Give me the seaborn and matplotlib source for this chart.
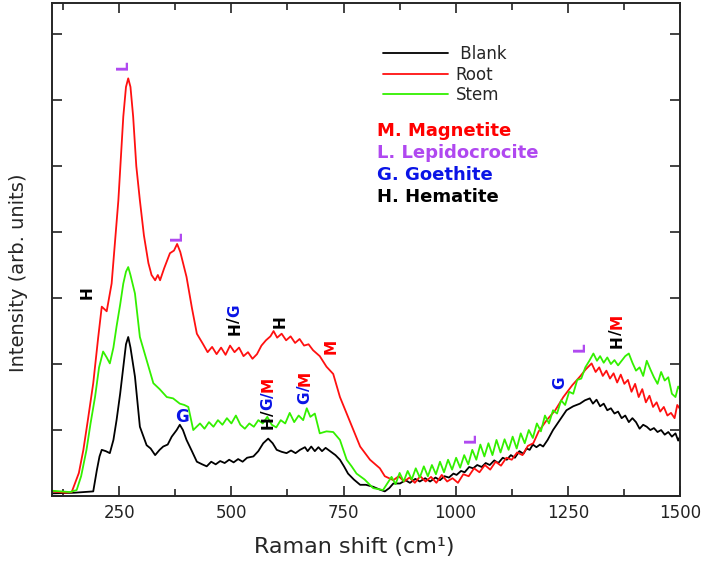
import numpy as np
import pandas as pd
import matplotlib
matplotlib.use("Agg")
import matplotlib.pyplot as plt
import seaborn as sns

# Raman spectra (x in cm^-1, intensity in arb. units)
root_x = [100, 130, 144, 160, 170, 180, 192, 203, 211, 222, 233, 241, 248, 259, 265, 270, 275, 281,
          288, 296, 305, 315, 322, 330, 336, 341, 350, 363, 372, 379, 386, 400, 412, 423,
          437, 447, 457, 467, 477, 487, 497, 507, 517, 527, 537, 547, 557, 567, 577, 587, 594, 602,
          612, 622, 632, 642, 652, 662, 672, 682, 697,
          712, 727, 742, 757, 772, 787, 809, 831, 842,
          861, 873, 885, 897, 909, 921, 933, 945, 957, 969, 981, 993, 1005, 1017, 1029, 1041, 1053,
          1065, 1077, 1089, 1101, 1113, 1125, 1137, 1149, 1161, 1173, 1185,
          1203, 1222, 1240, 1260, 1277, 1290,
          1303, 1312, 1320, 1328, 1336, 1344, 1352, 1360, 1368, 1376, 1384, 1392, 1400, 1408, 1416,
          1424, 1432, 1440, 1448, 1456, 1464, 1472, 1480, 1488, 1494, 1500]
root_y = [0.07, 0.05, 0.06, 0.35, 0.70, 1.15, 1.71, 2.40, 2.87, 2.80, 3.22, 3.90, 4.48, 5.75, 6.20,
          6.33, 6.20, 5.75, 5.00, 4.48, 3.95, 3.53, 3.35, 3.27, 3.35, 3.27, 3.45, 3.68, 3.72, 3.82,
          3.70, 3.32, 2.85, 2.46,
          2.30, 2.18, 2.26, 2.15, 2.25, 2.14, 2.28, 2.18, 2.25, 2.12, 2.18, 2.08, 2.15, 2.28, 2.36,
          2.42, 2.50, 2.40, 2.46, 2.36, 2.42, 2.32, 2.38, 2.28, 2.30, 2.21, 2.12,
          1.96, 1.85, 1.50, 1.25, 1.00, 0.75, 0.55, 0.42, 0.30,
          0.24, 0.30, 0.22, 0.28, 0.20, 0.30, 0.22, 0.29, 0.20, 0.32, 0.22, 0.27, 0.20, 0.33, 0.30,
          0.42, 0.36, 0.47, 0.40, 0.52, 0.46, 0.58, 0.55, 0.66, 0.62, 0.76, 0.80, 0.98,
          1.15, 1.30, 1.50, 1.68, 1.81, 1.92,
          2.01, 1.88, 1.95, 1.82, 1.90, 1.78, 1.86, 1.72, 1.84, 1.70, 1.76, 1.58, 1.70, 1.50, 1.62,
          1.42, 1.52, 1.35, 1.42, 1.28, 1.35, 1.22, 1.26, 1.18, 1.38, 1.32]

stem_x = [100, 140, 155, 165, 177, 186, 196, 205, 214, 222, 229, 237, 244, 252, 259, 265, 270, 275,
          285, 296, 311, 326, 340, 356, 370, 385, 395, 404, 415,
          430, 440, 450, 460, 470, 480, 490, 500, 510, 520, 530, 540, 550, 560, 570, 580, 590, 600,
          610, 620, 630, 640, 650, 660, 668, 676, 686, 697,
          712, 727, 742, 757, 768, 779, 797, 816, 838,
          857, 866, 875, 884, 893, 902, 911, 920, 929, 938, 947, 956, 965, 974, 983, 992, 1001, 1010,
          1019, 1028, 1037, 1046, 1055, 1064, 1073, 1082, 1091, 1100, 1109, 1118, 1127, 1136, 1145,
          1154, 1163, 1172, 1181, 1190, 1199, 1208, 1217, 1226, 1235, 1244, 1253, 1262, 1271, 1280,
          1289, 1298,
          1307, 1315, 1322, 1330, 1338, 1346, 1354, 1362, 1370, 1378, 1386, 1394, 1402, 1410, 1418,
          1426, 1434, 1442, 1450, 1458, 1466, 1474, 1482, 1490, 1496, 1500]
stem_y = [0.08, 0.06, 0.09, 0.30, 0.70, 1.10, 1.50, 1.95, 2.19, 2.10, 2.01, 2.25, 2.57, 2.90, 3.22,
          3.40, 3.47, 3.35, 3.07, 2.41, 2.06, 1.71, 1.62, 1.50, 1.48, 1.40, 1.38, 1.35, 1.00,
          1.10, 1.02, 1.12, 1.05, 1.15, 1.08, 1.18, 1.10, 1.22, 1.08, 1.02, 1.10, 1.05, 1.15, 1.10,
          1.20, 1.08, 1.04, 1.15, 1.10, 1.26, 1.12, 1.22, 1.15, 1.33, 1.20, 1.25, 0.95,
          0.98, 0.97, 0.85, 0.55, 0.45, 0.34, 0.25, 0.12, 0.09,
          0.29, 0.18, 0.35, 0.22, 0.38, 0.25, 0.42, 0.28, 0.45, 0.30, 0.47, 0.33, 0.52, 0.36, 0.55,
          0.40, 0.58, 0.43, 0.62, 0.48, 0.70, 0.55, 0.78, 0.60, 0.80, 0.62, 0.85, 0.66, 0.86, 0.70,
          0.90, 0.72, 0.95, 0.80, 1.00, 0.88, 1.10, 0.98, 1.22, 1.10, 1.30, 1.25, 1.45, 1.38, 1.58,
          1.55, 1.76, 1.78, 1.95, 2.05,
          2.16, 2.05, 2.12, 2.02, 2.10, 2.00, 2.06, 1.98, 2.05, 2.12, 2.16, 2.02, 1.90, 1.95, 1.82,
          2.05, 1.92, 1.80, 1.70, 1.88, 1.75, 1.80, 1.55, 1.50, 1.66, 1.62]

blank_x = [100, 150, 192, 200, 206, 211, 220, 229, 237, 244, 252, 259, 265, 270, 275, 285, 296, 311,
           320, 330, 340, 348, 358, 367, 378, 385, 392, 400, 412, 423,
           435, 445, 455, 465, 475, 485, 495, 505, 515, 525, 535, 549, 560, 571, 582, 592, 601, 612,
           623, 633, 643, 653, 664, 670, 678, 686, 694, 702, 710, 720, 732,
           742, 751, 760, 773, 787, 800, 816, 830, 842, 852, 861, 876,
           888, 898, 910, 920, 932, 943, 955, 965, 975, 985, 995, 1002, 1012, 1020, 1030, 1039, 1048,
           1058, 1067, 1076, 1086, 1095, 1105, 1114, 1123, 1132, 1142, 1151, 1158, 1165, 1172, 1180,
           1188, 1195, 1205, 1217, 1232, 1247, 1262, 1277, 1288,
           1299, 1306, 1314, 1322, 1330, 1338, 1346, 1354, 1362, 1370, 1378, 1386, 1394, 1402, 1410,
           1418, 1426, 1434, 1442, 1450, 1458, 1466, 1474, 1482, 1490, 1496, 1500]
blank_y = [0.04, 0.05, 0.07, 0.39, 0.60, 0.70, 0.68, 0.65, 0.85, 1.15, 1.55, 1.96, 2.30, 2.41, 2.25,
           1.81, 1.05, 0.77, 0.72, 0.62, 0.70, 0.75, 0.78, 0.90, 1.00, 1.08, 1.00, 0.85, 0.68, 0.52,
           0.48, 0.45, 0.52, 0.48, 0.53, 0.50, 0.55, 0.51, 0.56, 0.52, 0.58, 0.60, 0.68, 0.80, 0.87,
           0.80, 0.70, 0.67, 0.65, 0.69, 0.65, 0.70, 0.74, 0.68, 0.75, 0.68, 0.74, 0.68, 0.73, 0.68,
           0.62,
           0.55, 0.45, 0.34, 0.25, 0.17, 0.17, 0.14, 0.10, 0.07, 0.12, 0.19, 0.19,
           0.24, 0.20, 0.26, 0.22, 0.27, 0.22, 0.28, 0.24, 0.30, 0.28, 0.34, 0.32, 0.38, 0.36, 0.44,
           0.42, 0.47, 0.44, 0.50, 0.47, 0.54, 0.50, 0.58, 0.55, 0.62, 0.58, 0.68, 0.64, 0.72, 0.70,
           0.78, 0.74, 0.78, 0.75, 0.85, 1.00, 1.15, 1.30, 1.36, 1.40, 1.45,
           1.48, 1.40, 1.46, 1.36, 1.40, 1.30, 1.33, 1.25, 1.28, 1.18, 1.22, 1.12, 1.18, 1.12, 1.02,
           1.08, 1.05, 1.00, 1.03, 0.97, 1.00, 0.93, 0.97, 0.90, 0.95, 0.84, 0.90]

series_names = [" Blank", "Root", "Stem"]
series_colors = ["#000000", "#ff1010", "#33f000"]

# peak assignments: (x, y, [(text, colour), ...], rotation)
purple = "#b048f0"
blue = "#0a14e6"
red = "#ff0000"
black = "#000000"
peak_labels = [
    (258, 6.53, [("L", purple)], 90),
    (379, 3.94, [("L", purple)], 90),
    (178, 3.09, [("H", black)], 90),
    (508, 2.67, [("H", black), ("/", black), ("G", blue)], 90),
    (608, 2.64, [("H", black)], 90),
    (722, 2.26, [("M", red)], 90),
    (582, 1.41, [("H", black), ("/", black), ("G", blue), ("/", blue), ("M", red)], 90),
    (664, 1.65, [("G", blue), ("/", blue), ("M", red)], 90),
    (388, 1.20, [("G", blue)], 0),
    (1034, 0.88, [("L", purple)], 90),
    (1232, 1.71, [("G", blue)], 90),
    (1277, 2.26, [("L", purple)], 90),
    (1359, 2.50, [("H", black), ("/", black), ("M", red)], 90),
]

minerals = ["M. Magnetite", "L. Lepidocrocite", "G. Goethite", "H. Hematite"]
mineral_colors = [red, purple, blue, black]

df = pd.concat([
    pd.DataFrame({"shift": blank_x, "intensity": blank_y, "sample": series_names[0]}),
    pd.DataFrame({"shift": root_x, "intensity": root_y, "sample": series_names[1]}),
    pd.DataFrame({"shift": stem_x, "intensity": stem_y, "sample": series_names[2]}),
])

sns.set_style("ticks")
plt.rcParams["font.family"] = ["DejaVu Sans"]

fig = plt.figure(figsize=(7.08, 5.62), dpi=100)
ax = fig.add_axes([0.0734, 0.1174, 0.887, 0.877])

sns.lineplot(data=df, x="shift", y="intensity", hue="sample", palette=dict(zip(series_names, series_colors)),
             hue_order=series_names, linewidth=1.3, ax=ax, estimator=None)

ax.set_xlim(100, 1500)
ax.set_ylim(0, 7.47)
ax.set_xticks([250, 500, 750, 1000, 1250, 1500])
ax.set_xticks([125, 375, 625, 875, 1125, 1375], minor=True)
ax.set_yticks(np.arange(0, 8, 1))
ax.set_yticklabels([])
ax.tick_params(which="both", direction="in", top=True, right=True, width=1.2, colors="#222222")
ax.tick_params(which="major", length=7, labelsize=12, pad=6)
ax.tick_params(which="minor", length=5)
for sp in ax.spines.values():
    sp.set_linewidth(1.4)

ax.set_xlabel("Raman shift (cm¹)", fontsize=16, va="center")
ax.set_ylabel("Intensity (arb. units)", fontsize=14, va="center")
ax.xaxis.set_label_coords(0.482, -0.103)
ax.yaxis.set_label_coords(-0.053, 0.452)

ax.legend(loc="upper left", bbox_to_anchor=(0.527, 0.915), frameon=False, fontsize=12,
          handlelength=3.9, handletextpad=0.45, labelspacing=0.15, borderaxespad=0, borderpad=0)

for i, (name, col) in enumerate(zip(minerals, mineral_colors)):
    ax.text(0.518, 0.740 - i * 0.0446, name, color=col, fontsize=13, fontweight="bold",
            transform=ax.transAxes, va="center", ha="left")

# multi-coloured rotated labels, stacked piece by piece
renderer = fig.canvas.get_renderer()
lab_size = 11
for x, y, parts, rot in peak_labels:
    widths = []
    for s, c in parts:
        t = ax.text(0, 0, s, fontsize=lab_size, fontweight="bold")
        widths.append(t.get_window_extent(renderer).width)
        t.remove()
    pos = -sum(widths) / 2
    for (s, c), w in zip(parts, widths):
        if rot == 90:
            ax.annotate(s, (x, y), xytext=(0, pos), textcoords="offset pixels", rotation=90,
                        ha="center", va="bottom", color=c, fontsize=lab_size, fontweight="bold")
        else:
            ax.annotate(s, (x, y), xytext=(pos, 0), textcoords="offset pixels",
                        ha="left", va="center", color=c, fontsize=lab_size + 1, fontweight="bold")
        pos += w

fig.savefig("out.png", dpi=100)
